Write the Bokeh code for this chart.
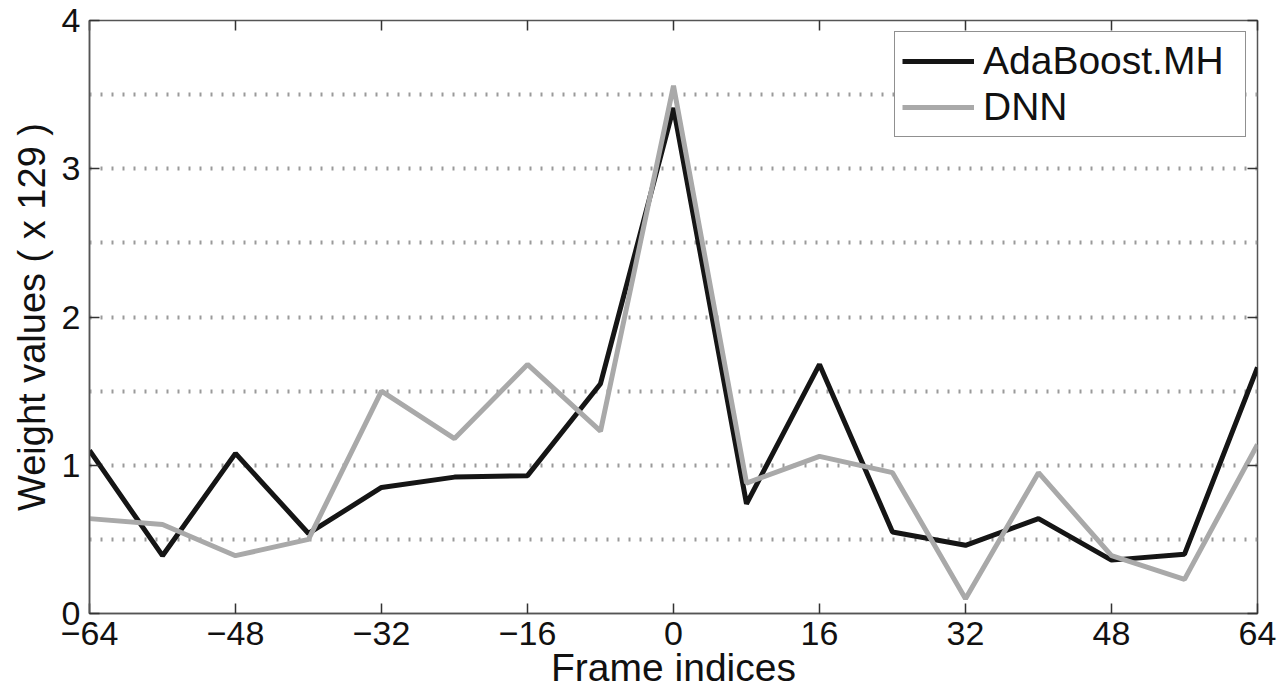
from bokeh.plotting import figure
from bokeh.models import FixedTicker, LinearAxis, Range1d, Legend, LegendItem
from bokeh.embed import file_html
from bokeh.resources import INLINE

frames = [-64, -56, -48, -40, -32, -24, -16, -8, 0, 8, 16, 24, 32, 40, 48, 56, 64]
adaboost = [1.10, 0.39, 1.08, 0.54, 0.85, 0.92, 0.93, 1.55, 3.41, 0.74, 1.68, 0.55, 0.46, 0.64, 0.36, 0.40, 1.66]
dnn = [0.64, 0.60, 0.39, 0.50, 1.50, 1.18, 1.68, 1.23, 3.56, 0.88, 1.06, 0.95, 0.10, 0.95, 0.39, 0.23, 1.14]

x_ticks = [-64, -48, -32, -16, 0, 16, 32, 48, 64]
x_tick_labels = ["\u221264", "\u221248", "\u221232", "\u221216", "0", "16", "32", "48", "64"]
y_ticks = [0, 1, 2, 3, 4]
y_grid = [0, 0.5, 1, 1.5, 2, 2.5, 3, 3.5, 4]

FONT = "Liberation Sans"

p = figure(width=1279, height=700, output_backend="svg", toolbar_location=None,
           x_range=Range1d(-64, 64), y_range=Range1d(0, 4),
           min_border_left=89, min_border_right=22, min_border_top=20, min_border_bottom=87)
p.background_fill_color = "white"
p.outline_line_color = "#555555"
p.outline_line_width = 1.5

# axes
for ax in (p.xaxis[0], p.yaxis[0]):
    ax.axis_line_color = "#555555"
    ax.axis_line_width = 1.5
    ax.major_tick_in = 10
    ax.major_tick_out = 0
    ax.major_tick_line_color = "#333333"
    ax.major_tick_line_width = 1.5
    ax.minor_tick_line_color = None
    ax.major_label_text_font = FONT
    ax.major_label_text_font_size = "34px"
    ax.major_label_text_color = "#111111"
    ax.axis_label_text_font = FONT
    ax.axis_label_text_font_size = "38px"
    ax.axis_label_text_font_style = "normal"
    ax.axis_label_text_color = "#111111"

p.xaxis.ticker = FixedTicker(ticks=x_ticks)
p.xaxis.major_label_overrides = {t: l for t, l in zip(x_ticks, x_tick_labels)}
p.xaxis.major_label_standoff = 8
p.xaxis.axis_label = "Frame indices"
p.xaxis.axis_label_text_font_size = "39px"
p.xaxis.axis_label_standoff = -2

p.yaxis.ticker = FixedTicker(ticks=y_ticks)
p.yaxis.major_label_standoff = 9
p.yaxis.axis_label = "Weight values ( x 129 )"
p.yaxis.axis_label_standoff = 6

# top and right axes: inward ticks only
top = LinearAxis(ticker=FixedTicker(ticks=x_ticks))
right = LinearAxis(ticker=FixedTicker(ticks=y_ticks))
for ax in (top, right):
    ax.axis_line_color = None
    ax.major_tick_in = 10
    ax.major_tick_out = 0
    ax.major_tick_line_color = "#333333"
    ax.major_tick_line_width = 1.5
    ax.minor_tick_line_color = None
    ax.major_label_text_font_size = "0px"
    ax.major_label_text_alpha = 0
    ax.major_label_standoff = 0
p.add_layout(top, "above")
p.add_layout(right, "right")

# grids
p.xgrid.grid_line_color = None
p.ygrid.ticker = FixedTicker(ticks=y_grid)
p.ygrid.grid_line_color = "#9a9a9a"
p.ygrid.grid_line_width = 4
p.ygrid.grid_line_dash = "2 9"

r1 = p.line(frames, adaboost, line_color="#151515", line_width=5)
r2 = p.line(frames, dnn, line_color="#a9a9a9", line_width=5)

legend = Legend(items=[LegendItem(label="AdaBoost.MH", renderers=[r1]),
                       LegendItem(label="DNN", renderers=[r2])],
                location="top_right")
legend.margin = 11
legend.padding = 7
legend.spacing = 2
legend.glyph_width = 72
legend.glyph_height = 40
legend.label_height = 40
legend.label_width = 255
legend.label_standoff = 9
legend.label_text_font = FONT
legend.label_text_font_size = "39px"
legend.label_text_color = "#111111"
legend.border_line_color = "#222222"
legend.border_line_width = 1.5
legend.background_fill_color = "white"
legend.background_fill_alpha = 1
p.add_layout(legend)

open("out.html", "w").write(file_html(p, INLINE))
